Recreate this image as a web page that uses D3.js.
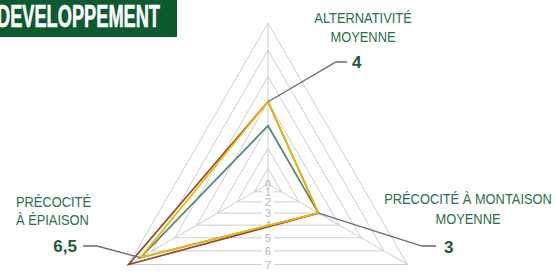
<!DOCTYPE html>
<html>
<head>
<meta charset="utf-8">
<script src="https://cdn.jsdelivr.net/npm/d3@7"></script>
<style>
  html, body { margin: 0; padding: 0; background: #fff; }
  svg { display: block; }
</style>
</head>
<body>
<svg id="chart" width="556" height="272"></svg>
<script>
// ---------- data ----------
const axisNames = ["ALTERNATIVITÉ MOYENNE", "PRÉCOCITÉ À MONTAISON MOYENNE", "PRÉCOCITÉ À ÉPIAISON"];
const axisLabelLines = [["ALTERNATIVITÉ", "MOYENNE"], ["PRÉCOCITÉ À MONTAISON", "MOYENNE"], ["PRÉCOCITÉ", "À ÉPIAISON"]];
const tickValues = [0, 1, 2, 3, 4, 5, 6, 7];
const seriesGreen = [3, 3, 6.5];
const seriesBrown = [4, 3, 7];
const seriesYellow = [4, 3, 6.5];
const highlightValues = [4, 3, 6.5];
const highlightLabels = ["4", "3", "6,5"];
const titleText = "DEVELOPPEMENT";

// ---------- layout ----------
const svg = d3.select("#chart");
const cx = 268, cy = 184, R = 161;
const FONT = "'Liberation Sans', Arial, sans-serif";
const NARROW = 0.83;
const r = d3.scalePow().exponent(1.2).domain([0, 7]).range([0, R]);
const angle = i => i * 2 * Math.PI / 3; // clockwise from 12 o'clock
const pt = (i, v) => [cx + r(v) * Math.sin(angle(i)), cy - r(v) * Math.cos(angle(i))];

// condensed text helper
function narrowText(parent, x, y, str, opts) {
  const gg = parent.append("g").attr("transform", `translate(${x},${y}) scale(${opts.sx || NARROW},1)`);
  const t = gg.append("text").attr("x", 0).attr("y", 0)
    .attr("text-anchor", opts.anchor || "start")
    .attr("font-family", FONT)
    .attr("font-size", opts.size)
    .attr("font-weight", opts.weight || "normal")
    .attr("fill", opts.fill)
    .text(str);
  if (opts.dy) t.attr("dy", opts.dy);
  return gg;
}

// title block
svg.append("rect").attr("x", 0).attr("y", 0).attr("width", 177).attr("height", 37).attr("fill", "#0c5a2f");
svg.append("text").attr("x", -3).attr("y", 27)
  .attr("textLength", 163).attr("lengthAdjust", "spacingAndGlyphs")
  .attr("font-family", FONT).attr("font-weight", "bold").attr("font-size", 32)
  .attr("fill", "#fff").attr("stroke", "#fff").attr("stroke-width", 0.6)
  .text(titleText);

const g = svg.append("g").attr("transform", `translate(${cx},${cy})`);

// grid triangles
const gridLine = d3.lineRadial().angle((d, i) => angle(i)).radius(d => r(d)).curve(d3.curveLinearClosed);
g.selectAll("path.grid").data(tickValues.filter(t => t > 0)).join("path")
  .attr("class", "grid")
  .attr("d", t => gridLine(axisNames.map(() => t)))
  .attr("fill", "none").attr("stroke", "#cdcdcd").attr("stroke-width", 1);

// axes spokes
g.selectAll("line.spoke").data(axisNames).join("line")
  .attr("class", "spoke")
  .attr("x1", 0).attr("y1", 0)
  .attr("x2", (d, i) => r(7) * Math.sin(angle(i)))
  .attr("y2", (d, i) => -r(7) * Math.cos(angle(i)))
  .attr("stroke", "#cdcdcd").attr("stroke-width", 1);

// tick labels (placed on bottom edges of each triangle)
tickValues.forEach(t => {
  const y = r(t) / 2;
  if (t > 0) g.append("rect").attr("x", -6).attr("y", y - 4.5).attr("width", 12).attr("height", 9).attr("fill", "#fff");
  narrowText(g, 0, y, String(t), { size: 11.5, fill: "#b4b4b4", anchor: "middle", dy: "0.36em", sx: 0.95 });
});

// series
const seriesLine = d3.lineRadial().angle((d, i) => angle(i)).radius(d => r(d)).curve(d3.curveLinearClosed);
const series = [
  { values: seriesGreen, color: "#4d8a6c" },
  { values: seriesBrown, color: "#8c4c2c" },
  { values: seriesYellow, color: "#f2b705" }
];
g.selectAll("path.series").data(series).join("path")
  .attr("class", "series")
  .attr("d", d => seriesLine(d.values))
  .attr("fill", "none").attr("stroke", d => d.color).attr("stroke-width", 1.7)
  .attr("stroke-linejoin", "miter");

// leader lines + value labels
const leaders = [
  { elbow: [336, 62], end: [347, 62], tx: 352, ty: 68, anchor: "start" },
  { elbow: [422, 246], end: [436, 246], tx: 444, ty: 253, anchor: "start" },
  { elbow: [97, 246], end: [83, 246], tx: 77, ty: 252, anchor: "end" }
];
leaders.forEach((l, i) => {
  const p = pt(i, highlightValues[i]);
  svg.append("polyline")
    .attr("points", [p, l.elbow, l.end].map(q => q.join(",")).join(" "))
    .attr("fill", "none").attr("stroke", "#6a6a6a").attr("stroke-width", 1.3);
  svg.append("text").attr("x", l.tx).attr("y", l.ty).attr("text-anchor", l.anchor)
    .attr("font-family", FONT)
    .attr("font-weight", "bold").attr("font-size", 17).attr("fill", "#1b5c37")
    .text(highlightLabels[i]);
});

// axis labels
const labelPos = [
  { x: 363, y: [23, 42], anchor: "middle" },
  { x: 468, y: [204, 224], anchor: "middle" },
  { x: 16, y: [207, 225], anchor: "start" }
];
axisLabelLines.forEach((lines, i) => {
  lines.forEach((s, j) => {
    narrowText(svg, labelPos[i].x, labelPos[i].y[j], s,
      { size: 15.5, fill: "#28704a", anchor: labelPos[i].anchor });
  });
});
</script>
</body>
</html>
